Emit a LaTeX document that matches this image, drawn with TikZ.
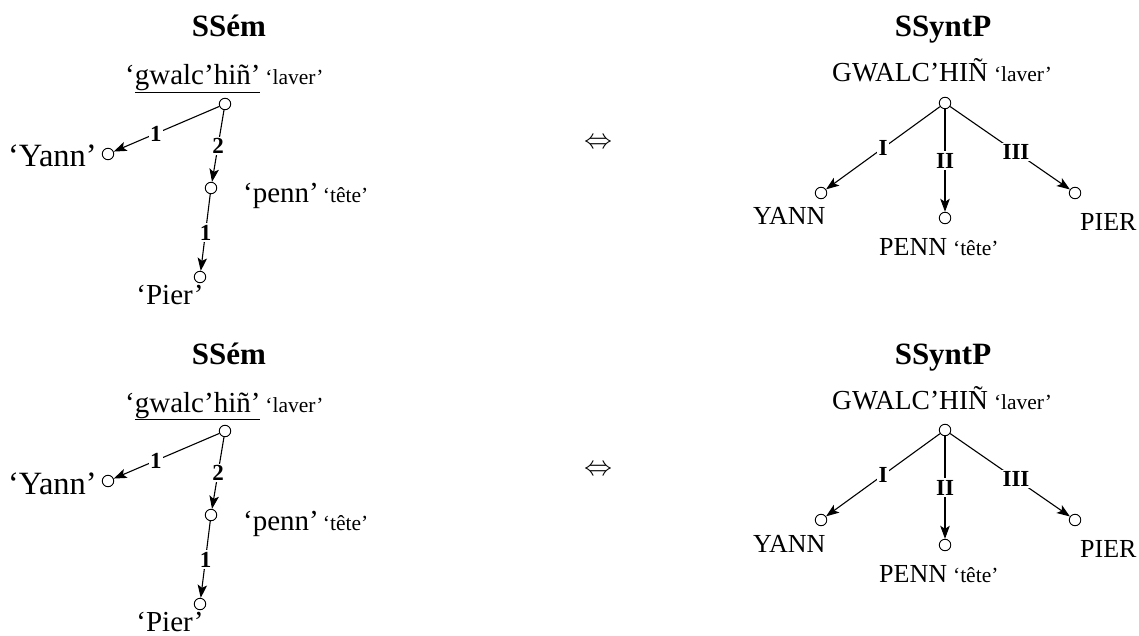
\documentclass[tikz,border=0pt]{standalone}
\usepackage{fontspec}
\setmainfont{Liberation Serif}
\usetikzlibrary{arrows.meta}
\begin{document}
\begin{tikzpicture}[x=1pt,y=-1pt,
  vtx/.style={circle,draw,line width=0.9pt,minimum size=11.5pt,inner sep=0pt},
  edg/.style={line width=1.1pt,-{Stealth[length=13pt,width=9.5pt,inset=3pt]}},
  lbl/.style={fill=white,inner sep=1.5pt,font=\fontsize{23}{23}\selectfont\bfseries},
  ttl/.style={anchor=base,font=\fontsize{31}{31}\selectfont\bfseries,inner sep=0pt},
  lt/.style={font=\fontsize{29}{29}\selectfont,inner sep=0pt},
  rt/.style={font=\fontsize{26}{26}\selectfont,inner sep=0pt}]
\newcommand\smtxt[1]{{\fontsize{21.5}{21.5}\selectfont #1}}
\useasboundingbox (0,0) rectangle (1139,636);
\foreach \dy/\p in {0/a,327/b}{
  \begin{scope}[yshift=-\dy pt]
  % left panel: SSem
  \node[ttl] (\p lt) at (229,37) {SSém};
  \node[lt,anchor=base west] (\p lg) at (125,85) {‘\underline{gwalc’hiñ’}\hspace{5pt}\smtxt{‘laver’}};
  \node[vtx] (\p lr) at (225,104) {};
  \node[vtx] (\p ly) at (108,154) {};
  \node[lt,anchor=base east,font=\fontsize{32.5}{32.5}\selectfont] (\p lyt) at (97,167) {‘Yann’};
  \node[vtx] (\p lp) at (211,188) {};
  \node[lt,anchor=base west] (\p lpt) at (243,203) {‘penn’\hspace{4pt}\smtxt{‘tête’}};
  \node[vtx] (\p lq) at (200,277) {};
  \node[lt,anchor=base] (\p lqt) at (170,304) {‘Pier’};
  \draw[edg] (\p lr) -- node[lbl,pos=0.6] {1} (\p ly);
  \draw[edg] (\p lr) -- node[lbl,pos=0.5] {2} (\p lp);
  \draw[edg] (\p lp) -- node[lbl,pos=0.5] {1} (\p lq);
  % equivalence
  \node[inner sep=0pt] (\p eq) at (598,143) {\scalebox{2.8}{$\Leftrightarrow$}};
  % right panel: SSyntP
  \node[ttl] (\p rt) at (943,37) {SSyntP};
  \node[rt,anchor=base west,font=\fontsize{27.5}{27.5}\selectfont] (\p rg) at (832,82) {GWALC’HIÑ\hspace{6pt}\smtxt{‘laver’}};
  \node[vtx] (\p rr) at (945,103) {};
  \node[vtx] (\p ry) at (821,193) {};
  \node[rt,anchor=base west] (\p ryt) at (753,225) {YANN};
  \node[vtx] (\p rp) at (945,218) {};
  \node[rt,anchor=base west] (\p rpt) at (879,255) {PENN\hspace{6pt}\smtxt{‘tête’}};
  \node[vtx] (\p rq) at (1075,193) {};
  \node[rt,anchor=base west] (\p rqt) at (1080,230) {PIER};
  \draw[edg] (\p rr) -- node[lbl,pos=0.5] {I} (\p ry);
  \draw[edg] (\p rr) -- node[lbl,pos=0.5] {II} (\p rp);
  \draw[edg] (\p rr) -- node[lbl,pos=0.55] {III} (\p rq);
  \end{scope}
}
\end{tikzpicture}
\end{document}
